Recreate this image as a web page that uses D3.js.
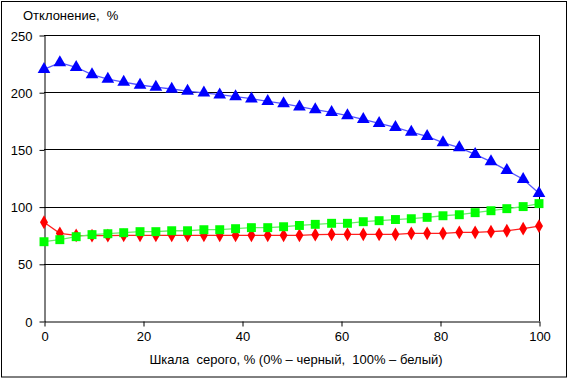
<!DOCTYPE html>
<html><head><meta charset="utf-8">
<script src="https://cdn.jsdelivr.net/npm/d3@7"></script>
<style>body{margin:0;background:#fff}svg{display:block}text{font-family:Arial,"Liberation Sans",sans-serif;font-size:13px;fill:#000;white-space:pre}</style>
</head><body><svg id="c" width="568" height="379"></svg>
<script>
const grayPct = [0,3.2,6.5,9.7,12.9,16.1,19.4,22.6,25.8,29.0,32.3,35.5,38.7,41.9,45.2,48.4,51.6,54.8,58.1,61.3,64.5,67.7,71.0,74.2,77.4,80.6,83.9,87.1,90.3,93.5,96.8,100];
const blueVals = [220,225.8,221.8,215.3,211.5,208.9,206.3,204.5,202.8,201,199.5,197.8,196.1,194.3,192,190,187.3,184.7,182.4,179.5,176.3,172.8,169.3,165.2,161.4,155.9,151.5,145.7,139.3,131.7,123.9,111.6];
const greenVals = [69.3,71.1,73.7,75.5,76.3,77.2,78.1,78.1,78.9,78.9,79.8,79.8,80.7,81.6,81.6,82.4,83.5,84.5,85.4,85.4,86.8,87.7,88.7,89.4,90.6,92,92.9,94.7,96.4,98.2,100,102.6];
const redVals = [86.3,76.6,74.9,74.6,74.6,74.9,74.9,74.9,74.9,74.9,74.9,74.9,74.9,74.9,74.9,74.9,74.9,75.5,75.8,75.8,75.8,75.8,75.8,76.6,76.6,76.6,77.5,77.5,78.1,78.9,80.7,83];
const xTicks = [0,20,40,60,80,100];
const yTicks = [0,50,100,150,200,250];
const yTitle = "Отклонение,  %";
const xTitle = "Шкала  серого, % (0% – черный,  100% – белый)";

const svg = d3.select("#c");
svg.append("rect").attr("x",1.5).attr("y",1.5).attr("width",565).attr("height",375.5).attr("fill","#fff").attr("stroke","#000").attr("stroke-width",1);
const x = d3.scaleLinear().domain([0,100]).range([44,539]);
const y = d3.scaleLinear().domain([0,250]).range([321,35]);

svg.append("g").selectAll("line").data(yTicks.filter(d=>d>0)).join("line")
  .attr("x1",x(0)).attr("x2",x(100)).attr("y1",d=>Math.round(y(d))+0.5).attr("y2",d=>Math.round(y(d))+0.5)
  .attr("stroke","#000").attr("stroke-width",1);
svg.append("line").attr("x1",x(100)+0.5).attr("x2",x(100)+0.5).attr("y1",y(250)).attr("y2",y(0)).attr("stroke","#000");

const yAxis = svg.append("g").attr("transform",`translate(${x(0)+0.5},0.5)`)
  .call(d3.axisLeft(y).tickValues(yTicks).tickSize(5).tickSizeOuter(0).tickPadding(7));
const xAxis = svg.append("g").attr("transform",`translate(0.5,${Math.round(y(0))+0.5})`)
  .call(d3.axisBottom(x).tickValues(xTicks).tickSize(5).tickSizeOuter(0).tickPadding(5));
[yAxis,xAxis].forEach(a=>{a.selectAll("path,line").attr("stroke","#000");a.selectAll("text").style("font-size","13px").attr("fill","#000");});
yAxis.selectAll("text").attr("dy","0.35em");

const series = [
  {vals:blueVals, line:"#5555ff", fill:"#0000ff", sym:d3.symbolTriangle, size:70},
  {vals:redVals, line:"#ff2020", fill:"#ff0000", sym:d3.symbolDiamond, size:55},
  {vals:greenVals, line:"#66ee66", fill:"#00ff00", sym:d3.symbolSquare, size:80}
];
series.forEach(s=>{
  const pts = grayPct.map((g,i)=>[g,s.vals[i]]);
  svg.append("path").datum(pts).attr("fill","none").attr("stroke",s.line).attr("stroke-width",1.3)
    .attr("d",d3.line().x(d=>x(d[0])).y(d=>y(d[1])));
  svg.append("g").selectAll("path").data(pts).join("path")
    .attr("transform",d=>`translate(${x(d[0])},${y(d[1])})`)
    .attr("d",d3.symbol().type(s.sym).size(s.size)).attr("fill",s.fill);
});

svg.append("text").attr("x",23).attr("y",20).text(yTitle);
svg.append("text").attr("x",296).attr("y",364).attr("text-anchor","middle").text(xTitle);
</script></body></html>
